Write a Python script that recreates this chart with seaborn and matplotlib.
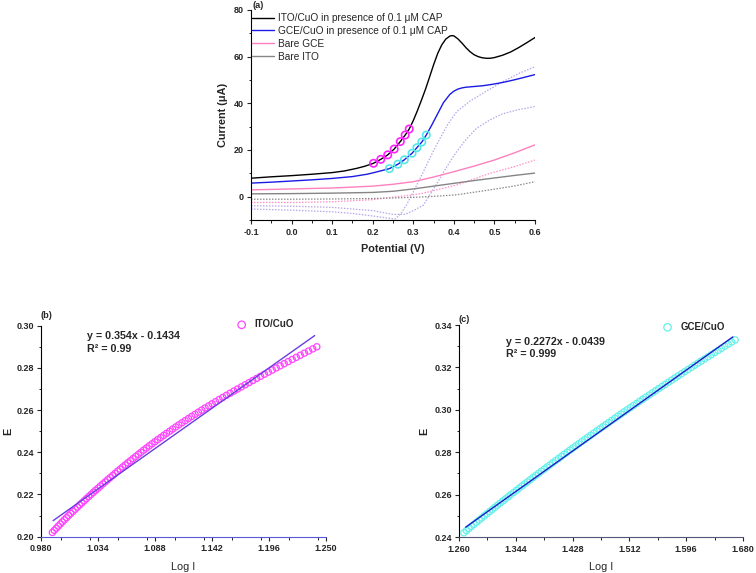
import numpy as np
import pandas as pd
import matplotlib
matplotlib.use("Agg")
import matplotlib.pyplot as plt
import seaborn as sns
from matplotlib.ticker import MultipleLocator

# ---------------- Panel (a) data: current (uA) vs potential (V) ----------------
ito_cuo_V = [-0.1, -0.05, 0.0, 0.05, 0.1, 0.13, 0.16, 0.18, 0.202, 0.220, 0.237, 0.253, 0.268,
             0.280, 0.290, 0.30, 0.31, 0.32, 0.33, 0.34, 0.35, 0.36, 0.37, 0.38, 0.39, 0.395,
             0.40, 0.41, 0.42, 0.43, 0.44, 0.45, 0.46, 0.47, 0.48, 0.49, 0.50, 0.52, 0.54,
             0.56, 0.58, 0.60]
ito_cuo_I = [7.9, 8.5, 9.0, 9.6, 10.3, 11.0, 12.1, 13.0, 14.3, 16.0, 17.9, 20.4, 23.6,
             26.4, 29.0, 32.6, 36.8, 41.3, 46.0, 51.2, 56.5, 61.3, 65.0, 67.5, 68.8, 69.0,
             68.9, 67.6, 65.8, 63.8, 62.1, 60.8, 60.0, 59.5, 59.3, 59.3, 59.6, 60.6, 62.0,
             63.9, 66.0, 68.2]

gce_cuo_V = [-0.1, -0.05, 0.0, 0.05, 0.1, 0.15, 0.186, 0.21, 0.241, 0.262, 0.278, 0.297,
             0.309, 0.321, 0.332, 0.345, 0.36, 0.374, 0.39, 0.40, 0.41, 0.42, 0.43, 0.45,
             0.47, 0.49, 0.51, 0.53, 0.55, 0.575, 0.60]
gce_cuo_I = [5.8, 6.2, 6.7, 7.2, 7.8, 8.6, 9.6, 10.6, 12.0, 13.9, 15.8, 18.6,
             21.0, 23.4, 26.4, 30.5, 35.5, 40.2, 43.8, 45.2, 46.1, 46.6, 46.9, 47.2,
             47.5, 48.0, 48.6, 49.3, 50.1, 51.2, 52.3]

bare_gce_V = [-0.1, 0.0, 0.1, 0.2, 0.25, 0.3, 0.35, 0.40, 0.45, 0.50, 0.55, 0.60]
bare_gce_I = [2.9, 3.3, 3.7, 4.5, 5.3, 6.4, 8.4, 10.7, 13.1, 15.7, 18.8, 22.2]

bare_ito_V = [-0.1, 0.0, 0.1, 0.2, 0.25, 0.3, 0.35, 0.40, 0.45, 0.50, 0.55, 0.60]
bare_ito_I = [1.2, 1.3, 1.5, 1.8, 2.3, 3.3, 4.5, 5.7, 6.9, 8.0, 9.1, 10.1]

# reverse scans (dotted)
rev_a_V = [-0.1, 0.0, 0.1, 0.15, 0.2, 0.23, 0.255, 0.27, 0.285, 0.30, 0.325, 0.345, 0.366,
           0.385, 0.407, 0.44, 0.48, 0.52, 0.56, 0.60]
rev_a_I = [-5.3, -5.8, -6.5, -7.2, -8.3, -9.0, -9.6, -7.2, -3.0, 2.0, 10.7, 18.0, 25.0,
           31.0, 36.4, 41.0, 45.2, 49.2, 52.8, 55.7]
rev_b_V = [-0.1, 0.0, 0.1, 0.2, 0.25, 0.28, 0.30, 0.325, 0.345, 0.366, 0.385, 0.407, 0.43,
           0.456, 0.49, 0.52, 0.56, 0.60]
rev_b_I = [-3.9, -4.1, -4.6, -6.0, -7.6, -7.6, -6.0, -3.6, 2.0, 7.9, 13.5, 19.3, 24.5,
           29.3, 33.0, 35.5, 37.3, 38.6]
rev_gce_V = [-0.1, 0.0, 0.1, 0.2, 0.243, 0.3, 0.325, 0.36, 0.407, 0.45, 0.489, 0.55, 0.60]
rev_gce_I = [-2.5, -2.5, -2.2, -1.3, -0.4, 0.8, 1.5, 3.0, 5.0, 7.6, 10.0, 12.9, 15.7]
rev_ito_V = [-0.1, 0.0, 0.1, 0.2, 0.3, 0.35, 0.407, 0.45, 0.489, 0.55, 0.60]
rev_ito_I = [-1.1, -1.1, -1.0, -0.8, -0.3, 0.1, 0.8, 1.9, 2.9, 4.6, 6.4]

ito_mark_V = [0.202, 0.220, 0.237, 0.253, 0.268, 0.280, 0.290]
ito_mark_I = [14.3, 16.0, 17.9, 20.4, 23.6, 26.4, 29.0]
gce_mark_V = [0.241, 0.262, 0.278, 0.297, 0.309, 0.321, 0.332]
gce_mark_I = [12.0, 13.9, 15.8, 18.6, 21.0, 23.4, 26.4]

a_xticks = [-0.1, 0.0, 0.1, 0.2, 0.3, 0.4, 0.5, 0.6]
a_xlabels = ["-0.1", "0.0", "0.1", "0.2", "0.3", "0.4", "0.5", "0.6"]
a_yticks = [0, 20, 40, 60, 80]
a_ylabels = ["0", "20", "40", "60", "80"]
a_series = ["ITO/CuO in presence of 0.1 \u03bcM CAP", "GCE/CuO in presence of 0.1 \u03bcM CAP",
            "Bare GCE", "Bare ITO"]

# ---------------- Panel (b) data: ITO/CuO, E vs log I ----------------
b_E = [0.202, 0.203, 0.204, 0.205, 0.206, 0.207, 0.208, 0.209, 0.210, 0.211, 0.212, 0.213,
       0.214, 0.215, 0.216, 0.217, 0.218, 0.219, 0.220, 0.221, 0.222, 0.223, 0.224, 0.225,
       0.226, 0.227, 0.228, 0.229, 0.230, 0.231, 0.232, 0.233, 0.234, 0.235, 0.236, 0.237,
       0.238, 0.239, 0.240, 0.241, 0.242, 0.243, 0.244, 0.245, 0.246, 0.247, 0.248, 0.249,
       0.250, 0.251, 0.252, 0.253, 0.254, 0.255, 0.256, 0.257, 0.258, 0.259, 0.260, 0.261,
       0.262, 0.263, 0.264, 0.265, 0.266, 0.267, 0.268, 0.269, 0.270, 0.271, 0.272, 0.273,
       0.274, 0.275, 0.276, 0.277, 0.278, 0.279, 0.280, 0.281, 0.282, 0.283, 0.284, 0.285,
       0.286, 0.287, 0.288, 0.289, 0.290]
b_logI = [0.9908, 0.9926, 0.9945, 0.9964, 0.9983, 1.0002, 1.0022, 1.0042, 1.0062, 1.0082,
          1.0103, 1.0124, 1.0145, 1.0166, 1.0187, 1.0209, 1.0230, 1.0252, 1.0274, 1.0296,
          1.0318, 1.0341, 1.0363, 1.0386, 1.0409, 1.0432, 1.0455, 1.0479, 1.0502, 1.0526,
          1.0550, 1.0574, 1.0598, 1.0622, 1.0647, 1.0672, 1.0697, 1.0722, 1.0747, 1.0773,
          1.0799, 1.0825, 1.0852, 1.0879, 1.0906, 1.0934, 1.0962, 1.0990, 1.1019, 1.1047,
          1.1077, 1.1106, 1.1136, 1.1166, 1.1197, 1.1228, 1.1259, 1.1291, 1.1323, 1.1355,
          1.1388, 1.1421, 1.1454, 1.1488, 1.1522, 1.1557, 1.1592, 1.1627, 1.1662, 1.1698,
          1.1734, 1.1770, 1.1806, 1.1843, 1.1880, 1.1917, 1.1954, 1.1991, 1.2029, 1.2066,
          1.2104, 1.2142, 1.2180, 1.2219, 1.2257, 1.2296, 1.2335, 1.2374, 1.2413]
b_slope, b_intercept = 0.354, -0.1434
b_fit_range = [0.9915, 1.2393]
b_xticks = [0.980, 1.034, 1.088, 1.142, 1.196, 1.250]
b_xlabels = ["0.980", "1.034", "1.088", "1.142", "1.196", "1.250"]
b_yticks = [0.20, 0.22, 0.24, 0.26, 0.28, 0.30]
b_ylabels = ["0.20", "0.22", "0.24", "0.26", "0.28", "0.30"]

# ---------------- Panel (c) data: GCE/CuO, E vs log I ----------------
c_E = [0.242, 0.243, 0.244, 0.245, 0.246, 0.247, 0.248, 0.249, 0.250, 0.251, 0.252, 0.253,
       0.254, 0.255, 0.256, 0.257, 0.258, 0.259, 0.260, 0.261, 0.262, 0.263, 0.264, 0.265,
       0.266, 0.267, 0.268, 0.269, 0.270, 0.271, 0.272, 0.273, 0.274, 0.275, 0.276, 0.277,
       0.278, 0.279, 0.280, 0.281, 0.282, 0.283, 0.284, 0.285, 0.286, 0.287, 0.288, 0.289,
       0.290, 0.291, 0.292, 0.293, 0.294, 0.295, 0.296, 0.297, 0.298, 0.299, 0.300, 0.301,
       0.302, 0.303, 0.304, 0.305, 0.306, 0.307, 0.308, 0.309, 0.310, 0.311, 0.312, 0.313,
       0.314, 0.315, 0.316, 0.317, 0.318, 0.319, 0.320, 0.321, 0.322, 0.323, 0.324, 0.325,
       0.326, 0.327, 0.328, 0.329, 0.330, 0.331, 0.332, 0.333]
c_logI = [1.2672, 1.2709, 1.2747, 1.2784, 1.2822, 1.2860, 1.2899, 1.2937, 1.2975, 1.3014,
          1.3053, 1.3092, 1.3131, 1.3170, 1.3209, 1.3249, 1.3288, 1.3328, 1.3368, 1.3408,
          1.3449, 1.3489, 1.3529, 1.3570, 1.3611, 1.3652, 1.3693, 1.3734, 1.3776, 1.3817,
          1.3859, 1.3901, 1.3943, 1.3985, 1.4027, 1.4070, 1.4113, 1.4155, 1.4198, 1.4241,
          1.4284, 1.4328, 1.4371, 1.4415, 1.4459, 1.4503, 1.4547, 1.4591, 1.4635, 1.4680,
          1.4725, 1.4769, 1.4814, 1.4859, 1.4905, 1.4950, 1.4996, 1.5041, 1.5087, 1.5133,
          1.5179, 1.5226, 1.5272, 1.5319, 1.5366, 1.5413, 1.5460, 1.5507, 1.5554, 1.5602,
          1.5649, 1.5697, 1.5745, 1.5793, 1.5841, 1.5890, 1.5938, 1.5987, 1.6036, 1.6085,
          1.6134, 1.6183, 1.6232, 1.6282, 1.6332, 1.6382, 1.6432, 1.6482, 1.6532, 1.6582,
          1.6633, 1.6684]
c_slope, c_intercept = 0.2272, -0.0439
c_fit_range = [1.2699, 1.6650]
c_xticks = [1.260, 1.344, 1.428, 1.512, 1.596, 1.680]
c_xlabels = ["1.260", "1.344", "1.428", "1.512", "1.596", "1.680"]
c_yticks = [0.24, 0.26, 0.28, 0.30, 0.32, 0.34]
c_ylabels = ["0.24", "0.26", "0.28", "0.30", "0.32", "0.34"]

# ---------------- Styling ----------------
sns.set_theme(style="ticks")
plt.rcParams["font.family"] = ["Liberation Sans", "DejaVu Sans"]
plt.rcParams.update({
    "axes.linewidth": 0.8,
    "xtick.direction": "out", "ytick.direction": "out",
    "xtick.major.size": 3.0, "ytick.major.size": 3.0,
    "xtick.minor.size": 1.8, "ytick.minor.size": 1.8,
    "xtick.major.width": 0.8, "ytick.major.width": 0.8,
    "xtick.minor.width": 0.7, "ytick.minor.width": 0.7,
    "xtick.major.pad": 2.5, "ytick.major.pad": 2.0,
    "axes.edgecolor": "black",
})

TICK_FS = 6.5

fig = plt.figure(figsize=(7.56, 5.73), dpi=100)
axA = fig.add_axes([0.3320, 0.6161, 0.3757, 0.3665])
axB = fig.add_axes([0.0542, 0.0634, 0.3770, 0.3682])
axC = fig.add_axes([0.6071, 0.0628, 0.3757, 0.3700])


def style_axes(ax, xt, xl, yt, yl, xminor, yminor):
    sns.despine(ax=ax)
    ax.set_xticks(xt, labels=xl, fontsize=TICK_FS, fontweight="bold")
    ax.set_yticks(yt, labels=yl, fontsize=TICK_FS, fontweight="bold")
    ax.xaxis.set_minor_locator(MultipleLocator(xminor))
    ax.yaxis.set_minor_locator(MultipleLocator(yminor))


# ---- Panel (a) ----
dotted_kw = dict(linestyle=(0, (1.2, 1.2)), linewidth=0.9, estimator=None, sort=False)
sns.lineplot(x=rev_a_V, y=rev_a_I, ax=axA, color="#b7a6ea", **dotted_kw)
sns.lineplot(x=rev_b_V, y=rev_b_I, ax=axA, color="#b7a6ea", **dotted_kw)
sns.lineplot(x=rev_gce_V, y=rev_gce_I, ax=axA, color="#ff8fc4", **dotted_kw)
sns.lineplot(x=rev_ito_V, y=rev_ito_I, ax=axA, color="#8a8a8a", **dotted_kw)

solid_kw = dict(linewidth=1.0, estimator=None, sort=False)
sns.lineplot(x=ito_cuo_V, y=ito_cuo_I, ax=axA, color="black", label=a_series[0], **solid_kw)
sns.lineplot(x=gce_cuo_V, y=gce_cuo_I, ax=axA, color="#1a1ae6", label=a_series[1], **solid_kw)
sns.lineplot(x=bare_gce_V, y=bare_gce_I, ax=axA, color="#ff80bf", label=a_series[2], **solid_kw)
sns.lineplot(x=bare_ito_V, y=bare_ito_I, ax=axA, color="#858585", label=a_series[3], **solid_kw)

sns.scatterplot(x=ito_mark_V, y=ito_mark_I, ax=axA, marker="o", s=28, facecolor="none",
                edgecolor="#ff22ff", linewidth=1.2, zorder=5)
sns.scatterplot(x=gce_mark_V, y=gce_mark_I, ax=axA, marker="o", s=28, facecolor="none",
                edgecolor="#55e8e8", linewidth=1.2, zorder=5)

axA.set_xlim(-0.1, 0.6)
axA.set_ylim(-10, 80)
style_axes(axA, a_xticks, a_xlabels, a_yticks, a_ylabels, 0.05, 10)
axA.set_xlabel("Potential (V)", fontsize=7.8, fontweight="bold", labelpad=5)
axA.set_ylabel("Current (\u03bcA)", fontsize=7.8, fontweight="bold", labelpad=4)
axA.legend(loc="upper left", bbox_to_anchor=(0.004, 0.985), frameon=False, fontsize=7.3,
           handlelength=2.2, handletextpad=0.35, labelspacing=0.28, borderpad=0,
           borderaxespad=0)
axA.text(0.004, 0.998, "(a)", transform=axA.transAxes, fontsize=6.7, fontweight="bold",
         ha="left", va="bottom")

# ---- Panel (b) ----
sns.scatterplot(x=b_logI, y=b_E, ax=axB, marker="o", s=20, facecolor="none",
                edgecolor="#ff44ff", linewidth=0.9, label="ITO/CuO", zorder=3)
b_fit_x = np.array(b_fit_range)
sns.lineplot(x=b_fit_x, y=b_slope * b_fit_x + b_intercept, ax=axB, color="#6a3de0",
             linewidth=1.0, estimator=None, zorder=4)
axB.set_xlim(0.980, 1.250)
axB.set_ylim(0.20, 0.30)
style_axes(axB, b_xticks, b_xlabels, b_yticks, b_ylabels, 0.027, 0.01)
axB.spines["bottom"].set_color("#5a5ad8")
axB.set_xlabel("Log I", fontsize=7.8, labelpad=6)
axB.set_ylabel("E", fontsize=7.8, fontweight="bold", labelpad=2.5)
axB.legend(loc="upper left", bbox_to_anchor=(0.67, 1.03), frameon=False,
           prop={"weight": "bold", "size": 7.0}, handletextpad=0.3, borderpad=0,
           borderaxespad=0, markerscale=1.2)
axB.text(0.161, 0.951, "y = 0.354x - 0.1434", transform=axB.transAxes, fontsize=7.7,
         fontweight="bold", ha="left", va="center")
axB.text(0.161, 0.888, "R\u00b2 = 0.99", transform=axB.transAxes, fontsize=7.7,
         fontweight="bold", ha="left", va="center")
axB.text(0.0, 1.025, "(b)", transform=axB.transAxes, fontsize=6.7, fontweight="bold",
         ha="left", va="bottom")

# ---- Panel (c) ----
sns.scatterplot(x=c_logI, y=c_E, ax=axC, marker="o", s=20, facecolor="none",
                edgecolor="#66f0ea", linewidth=0.9, label="GCE/CuO", zorder=3)
c_fit_x = np.array(c_fit_range)
sns.lineplot(x=c_fit_x, y=c_slope * c_fit_x + c_intercept, ax=axC, color="#1c1cc8",
             linewidth=1.0, estimator=None, zorder=4)
axC.set_xlim(1.260, 1.680)
axC.set_ylim(0.24, 0.34)
style_axes(axC, c_xticks, c_xlabels, c_yticks, c_ylabels, 0.042, 0.01)
axC.spines["bottom"].set_color("#55557a")
axC.set_xlabel("Log I", fontsize=7.8, labelpad=6)
axC.set_ylabel("E", fontsize=7.8, fontweight="bold", labelpad=4)
axC.legend(loc="upper left", bbox_to_anchor=(0.70, 1.015), frameon=False,
           prop={"weight": "bold", "size": 7.0}, handletextpad=0.3, borderpad=0,
           borderaxespad=0, markerscale=1.2)
axC.text(0.1655, 0.921, "y = 0.2272x - 0.0439", transform=axC.transAxes, fontsize=7.7,
         fontweight="bold", ha="left", va="center")
axC.text(0.1655, 0.863, "R\u00b2 = 0.999", transform=axC.transAxes, fontsize=7.7,
         fontweight="bold", ha="left", va="center")
axC.text(0.0, 1.005, "(c)", transform=axC.transAxes, fontsize=6.7, fontweight="bold",
         ha="left", va="bottom")

fig.savefig("out.png", dpi=100)
